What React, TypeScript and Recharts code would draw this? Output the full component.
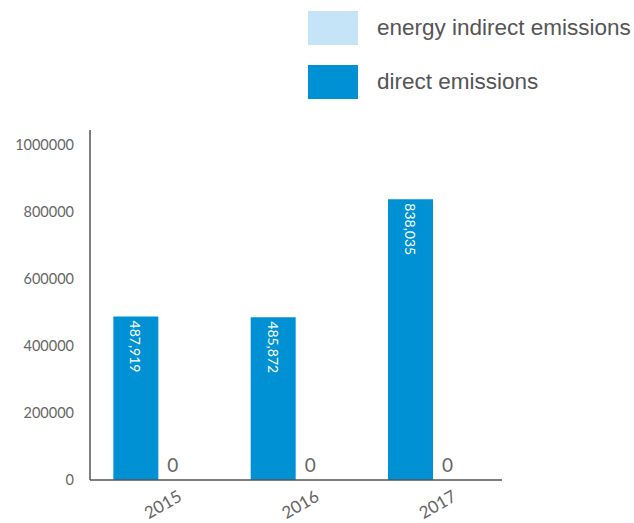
import React from 'react';
import { BarChart, Bar, XAxis, YAxis, LabelList } from 'recharts';

const years = ['2015', '2016', '2017'];
const directEmissions = [487919, 485872, 838035];
const indirectEmissions = [0, 0, 0];
const yTicks = [0, 200000, 400000, 600000, 800000, 1000000];

const data = years.map((y, i) => ({ year: y, direct: directEmissions[i], indirect: indirectEmissions[i] }));

const DIRECT = '#0091d5';
const INDIRECT = '#c6e4f8';
const TEXT = '#666666';
const tickFont = 'Lato, "Liberation Sans", sans-serif';

const fmt = (v: number) => v.toLocaleString('en-US');

const DirectLabel = (props: any) => {
  const { x, y, width, height, value, index } = props;
  const cx = x + width / 2;
  const ty = y + 4;
  const base = y + height;
  return (
    <g>
      <text
        x={cx}
        y={ty}
        transform={`rotate(90, ${cx}, ${ty})`}
        fill="#ffffff"
        fontSize={14}
        fontFamily={tickFont}
        textAnchor="start"
        dominantBaseline="central"
      >
        {fmt(value)}
      </text>
      <text x={x + width + 14.5} y={base - 8} fill={TEXT} fontSize={19} fontFamily={tickFont} textAnchor="middle">
        {fmt(indirectEmissions[index])}
      </text>
    </g>
  );
};

const XTick = (props: any) => {
  const { x, y, payload } = props;
  const tx = x + 4;
  const ty = y + 16;
  return (
    <text
      x={tx}
      y={ty}
      transform={`rotate(-30, ${tx}, ${ty})`}
      fill={TEXT}
      fontSize={17}
      fontFamily={tickFont}
      textAnchor="middle"
      dominantBaseline="central"
    >
      {payload.value}
    </text>
  );
};

const legendItems = [
  { label: 'energy indirect emissions', color: INDIRECT },
  { label: 'direct emissions', color: DIRECT },
];

export default function App() {
  return (
    <div style={{ position: 'absolute', left: 0, top: 0, width: 634, height: 523 }}>
      <div style={{ position: 'absolute', left: 308, top: 11, zIndex: 2 }}>
        {legendItems.map((it, i) => (
          <div key={i} style={{ display: 'flex', alignItems: 'center', height: 34, marginBottom: 20 }}>
            <div style={{ width: 50, height: 34, background: it.color }} />
            <span
              style={{
                marginLeft: 19,
                fontSize: 22.5,
                color: '#555555',
                fontFamily: '"Liberation Sans", Arial, sans-serif',
                whiteSpace: 'nowrap',
              }}
            >
              {it.label}
            </span>
          </div>
        ))}
      </div>
      <BarChart
        width={634}
        height={523}
        data={data}
        margin={{ top: 130, right: 132, bottom: 0, left: 0 }}
        barCategoryGap="17%"
        barGap={0}
      >
        <XAxis
          dataKey="year"
          height={43}
          axisLine={{ stroke: '#555555', strokeWidth: 1.5 }}
          tickLine={false}
          tick={<XTick />}
          interval={0}
        />
        <YAxis
          width={90}
          domain={[0, 1045000]}
          ticks={yTicks}
          axisLine={{ stroke: '#555555', strokeWidth: 1.5 }}
          tickLine={false}
          tickMargin={10}
          tick={{ fill: TEXT, fontSize: 14.5, fontFamily: tickFont }}
          allowDataOverflow
        />
        <Bar dataKey="direct" fill={DIRECT} isAnimationActive={false}>
          <LabelList dataKey="direct" content={<DirectLabel />} />
        </Bar>
        <Bar dataKey="indirect" fill={INDIRECT} isAnimationActive={false} />
      </BarChart>
    </div>
  );
}
